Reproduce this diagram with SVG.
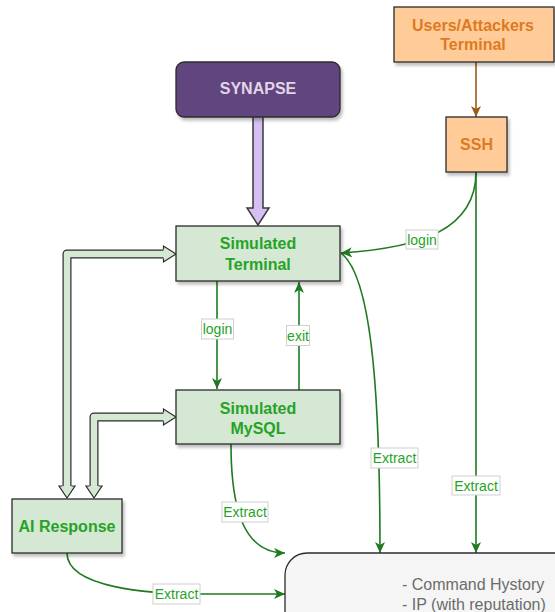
<svg xmlns="http://www.w3.org/2000/svg" width="555" height="612" viewBox="0 0 555 612">
  <defs>
    <filter id="shadow" x="-10%" y="-10%" width="130%" height="140%">
      <feDropShadow dx="2" dy="3" stdDeviation="1.5" flood-color="#000" flood-opacity="0.25"/>
    </filter>
    <marker id="arrowGreen" markerUnits="userSpaceOnUse" markerWidth="12" markerHeight="12" viewBox="0 0 12 12" refX="11" refY="6" orient="auto">
      <path d="M0,1 L11,6 L0,11 L3,6 z" fill="#1f7a1f"/>
    </marker>
    <marker id="arrowBrown" markerUnits="userSpaceOnUse" markerWidth="12" markerHeight="12" viewBox="0 0 12 12" refX="11" refY="6" orient="auto">
      <path d="M0,1 L11,6 L0,11 L3,6 z" fill="#9c5a16"/>
    </marker>
  </defs>
  <style>
    .box { stroke: #2b2b2b; stroke-width: 1.3; filter: url(#shadow); }
    .green { fill: #d5e8d4; }
    .orange { fill: #ffcc99; }
    .node-text { font-family: "Liberation Sans", Arial, sans-serif; font-size: 16px; font-weight: bold; text-anchor: middle; }
    .g-text { fill: #26a326; }
    .o-text { fill: #dd7a23; }
    .edge { fill: none; stroke: #1f7a1f; stroke-width: 1.6; }
    .lbl-box { fill: #ffffff; stroke: #cfcfcf; stroke-width: 1; }
    .lbl { font-family: "Liberation Sans", Arial, sans-serif; font-size: 14px; fill: #26a326; text-anchor: middle; }
    .flex-out { fill: none; stroke: #2b2b2b; stroke-width: 9; stroke-linejoin: round; }
    .flex-in { fill: none; stroke: #d5e8d4; stroke-width: 6.6; stroke-linejoin: round; }
    .flex-head { fill: #d5e8d4; stroke: #2b2b2b; stroke-width: 1.2; stroke-linejoin: miter; }
  </style>

  <!-- connectors -->
  <g id="connectors">
    <!-- users terminal to ssh -->
    <line x1="476" y1="62" x2="476" y2="117" stroke="#9c5a16" stroke-width="1.6" marker-end="url(#arrowBrown)"/>

    <!-- synapse wide arrow -->
    <path d="M253,117 L253,208 L247,208 L258,225 L269,208 L263,208 L263,117" fill="#d6bff2" stroke="#3a3a3a" stroke-width="1.5"/>

    <!-- ssh login into simulated terminal -->
    <path class="edge" d="M476,172 C476,230 420,248 341,253" marker-end="url(#arrowGreen)"/>
    <!-- ssh extract -->
    <path class="edge" d="M476,172 L476,553" marker-end="url(#arrowGreen)"/>
    <!-- terminal extract -->
    <path class="edge" d="M341,253 C370,275 380,380 380,553" marker-end="url(#arrowGreen)"/>
    <!-- terminal to mysql login -->
    <path class="edge" d="M217,281 L217,389" marker-end="url(#arrowGreen)"/>
    <!-- mysql exit -->
    <path class="edge" d="M299,390 L299,282" marker-end="url(#arrowGreen)"/>
    <!-- mysql extract -->
    <path class="edge" d="M231,444 C231,512 245,553 285,553" marker-end="url(#arrowGreen)"/>
    <!-- ai response extract -->
    <path class="edge" d="M67,553 C67,588 150,594 200,594 L285,594" marker-end="url(#arrowGreen)"/>

    <!-- bidirectional flex arrows between ai response and simulated nodes -->
    <path class="flex-out" d="M67,487 L67,254 L165,254"/>
    <path class="flex-in" d="M67,487 L67,254 L165,254"/>
    <path class="flex-head" d="M163.5,249.5 L163.5,246 L176,254 L163.5,262 L163.5,258.5"/>
    <path class="flex-head" d="M71.5,486 L75,486 L67,498 L59,486 L62.5,486"/>

    <path class="flex-out" d="M94,487 L94,417 L165,417"/>
    <path class="flex-in" d="M94,487 L94,417 L165,417"/>
    <path class="flex-head" d="M163.5,412.5 L163.5,409 L176,417 L163.5,425 L163.5,421.5"/>
    <path class="flex-head" d="M98.5,486 L102,486 L94,498 L86,486 L89.5,486"/>

    <!-- edge labels -->
    <rect class="lbl-box" x="406" y="230" width="32" height="19"/>
    <text class="lbl" x="422" y="244.5">login</text>
    <rect class="lbl-box" x="201.5" y="319" width="32" height="20"/>
    <text class="lbl" x="217.5" y="334">login</text>
    <rect class="lbl-box" x="286.5" y="325.5" width="23" height="20"/>
    <text class="lbl" x="298" y="340.5">exit</text>
    <rect class="lbl-box" x="371" y="448" width="47" height="20"/>
    <text class="lbl" x="394.5" y="463">Extract</text>
    <rect class="lbl-box" x="452" y="476" width="48" height="19"/>
    <text class="lbl" x="476" y="490.5">Extract</text>
    <rect class="lbl-box" x="222" y="502" width="46" height="20"/>
    <text class="lbl" x="245" y="517">Extract</text>
    <rect class="lbl-box" x="153" y="584" width="47" height="20"/>
    <text class="lbl" x="176.5" y="599">Extract</text>
  </g>

  <g id="users-terminal">
    <rect class="box orange" x="394" y="7" width="160" height="55"/>
    <text class="node-text o-text" x="473" y="31">Users/Attackers</text>
    <text class="node-text o-text" x="473" y="50">Terminal</text>
  </g>

  <g id="ssh">
    <rect class="box orange" x="446" y="117" width="61" height="55"/>
    <text class="node-text o-text" x="476.5" y="150">SSH</text>
  </g>

  <g id="synapse">
    <rect class="box" x="176" y="62" width="164" height="55" rx="8" fill="#60457f"/>
    <text class="node-text" x="258" y="94" fill="#e1d5e7">SYNAPSE</text>
  </g>

  <g id="simulated-terminal">
    <rect class="box green" x="176" y="226" width="164" height="55"/>
    <text class="node-text g-text" x="258" y="248.5">Simulated</text>
    <text class="node-text g-text" x="258" y="270">Terminal</text>
  </g>

  <g id="simulated-mysql">
    <rect class="box green" x="176" y="390" width="164" height="54"/>
    <text class="node-text g-text" x="258" y="413.5">Simulated</text>
    <text class="node-text g-text" x="258" y="434">MySQL</text>
  </g>

  <g id="ai-response">
    <rect class="box green" x="12" y="499" width="110" height="54"/>
    <text class="node-text g-text" x="67" y="532">AI Response</text>
  </g>

  <g id="extracted-data">
    <rect x="285" y="553" width="300" height="100" rx="22" fill="#f5f5f5" stroke="#2b2b2b" stroke-width="1.3"/>
    <text x="402" y="590" font-family="'Liberation Sans', Arial, sans-serif" font-size="16" fill="#6b6b6b">- Command Hystory</text>
    <text x="402" y="610" font-family="'Liberation Sans', Arial, sans-serif" font-size="16" fill="#6b6b6b">- IP (with reputation)</text>
  </g>
</svg>
